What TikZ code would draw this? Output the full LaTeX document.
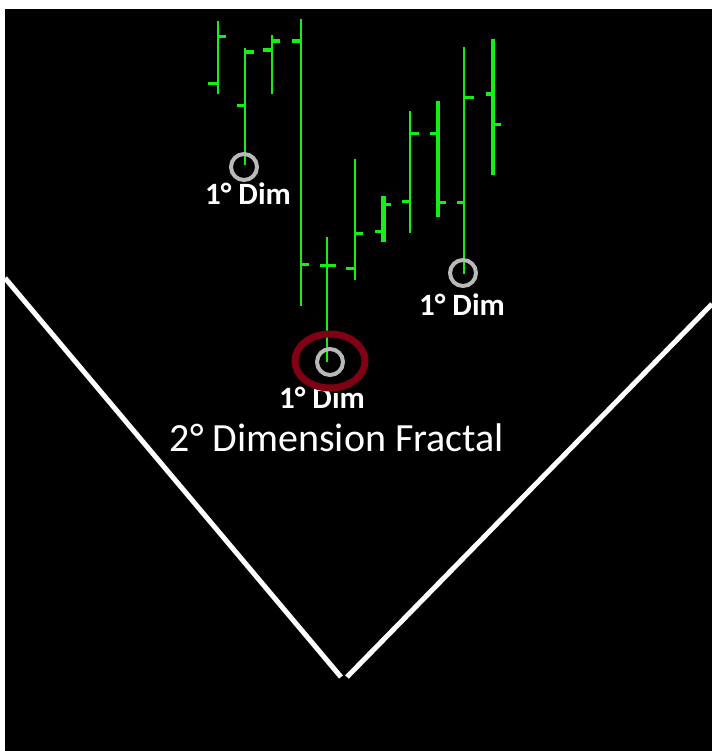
\documentclass[tikz,border=0pt]{standalone}
\usepackage{fontspec}
\setmainfont{Carlito}
\definecolor{gbar}{RGB}{20,240,20}
\definecolor{dred}{RGB}{128,0,20}
\definecolor{ring}{RGB}{185,185,185}
\newcommand{\gbarx}[4]{\draw[gline,line width=#4] (#1,#2) -- (#1,#3);}
\newcommand{\ltk}[3]{\draw[gline] (#3,#2) -- (#1,#2);}
\newcommand{\rtk}[3]{\draw[gline] (#1,#2) -- (#3,#2);}
\begin{document}
\begin{tikzpicture}[x=1pt,y=-1pt,
  gline/.style={draw=gbar,line width=3pt},
  vline/.style={draw=white,line width=5pt},
  smallring/.style={draw=ring,line width=4pt},
  dimlabel/.style={text=white,font=\bfseries\fontsize{31}{31}\selectfont,inner sep=0pt},
  biglabel/.style={text=white,font=\fontsize{40}{40}\selectfont,inner sep=0pt}]
\useasboundingbox (0,0) rectangle (712,751);
\fill[white] (0,0) rectangle (712,751);
\fill[black] (5,9) rectangle (712,751);
% V lines
\coordinate (vl1) at (5,278);
\coordinate (vl2) at (341,677);
\coordinate (vr1) at (347,677);
\coordinate (vr2) at (712,304);
\draw[vline] (vl1) -- (vl2);
\draw[vline] (vr1) -- (vr2);
% bars
\gbarx{218}{21}{94}{2.6pt} \rtk{218}{37}{226} \ltk{218}{84}{208}
\gbarx{245}{48}{165}{2.6pt} \draw[gline,line width=4pt] (245,52) -- (254,52); \ltk{245}{106}{237}
\gbarx{272}{35}{94}{2.6pt} \draw[gline,line width=4pt] (263,50) -- (272,50); \draw[gline,line width=4pt] (272,41) -- (280,41);
\gbarx{301}{19}{306}{2.6pt} \draw[gline,line width=4pt] (292,41) -- (301,41); \rtk{301}{264}{309}
\gbarx{327}{237}{362}{2.6pt} \ltk{327}{265}{320} \rtk{327}{265}{336}
\gbarx{355}{159}{280}{2.6pt} \ltk{355}{268}{346} \rtk{355}{233}{363}
\gbarx{383}{196}{242}{5pt} \ltk{383}{231}{375} \rtk{383}{205}{391}
\gbarx{410}{111}{233}{2.6pt} \ltk{410}{202}{402} \rtk{410}{134}{419}
\gbarx{438}{101}{217}{4pt} \ltk{438}{134}{430} \rtk{438}{203}{446}
\gbarx{464}{47}{274}{2.6pt} \ltk{464}{203}{457} \rtk{464}{98}{474}
\gbarx{493}{39}{175}{4pt} \draw[gline,line width=4pt] (486,94) -- (493,94); \rtk{493}{125}{501}
% rings
\draw[smallring] (244,167) circle (13);
\draw[smallring] (463,273) circle (13);
\draw[smallring] (330,362) circle (13);
% labels
\node[dimlabel] (d1) at (248,194) {1° Dim};
\node[dimlabel] (d2) at (462,305) {1° Dim};
\node[dimlabel] (d3) at (322,398) {1° Dim};
\node[biglabel] (big) at (337,438) {2° Dimension Fractal};
% red ellipse
\draw[dred,line width=7pt] (330,361) ellipse [x radius=35, y radius=27];
\end{tikzpicture}
\end{document}
